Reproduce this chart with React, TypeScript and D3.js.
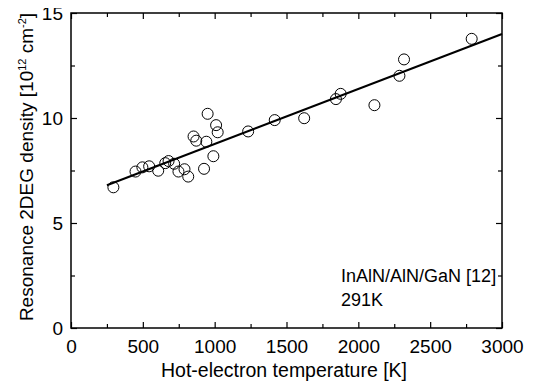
import React, { useEffect, useRef } from 'react';
import * as d3 from 'd3';

// Hot-electron temperature [K]
const temperatures = [
  295, 449, 497, 544, 607, 656, 679, 718, 748, 790, 816, 853, 872, 926, 942,
  951, 991, 1010, 1021, 1233, 1418, 1623, 1844, 1877, 2112, 2286, 2318, 2789,
];
// Resonance 2DEG density [1e12 cm^-2]
const densities = [
  6.7, 7.45, 7.65, 7.7, 7.49, 7.85, 7.95, 7.82, 7.45, 7.56, 7.21, 9.12, 8.92,
  7.58, 8.87, 10.2, 8.18, 9.66, 9.32, 9.36, 9.9, 9.99, 10.9, 11.15, 10.61,
  12.01, 12.79, 13.77,
];
// linear fit endpoints
const fitX = [250, 3000];
const fitY = [6.8, 14.0];

const xTicks = [0, 500, 1000, 1500, 2000, 2500, 3000];
const yTicks = [0, 5, 10, 15];

const W = 541;
const H = 385;
const margin = { top: 13, right: 39, bottom: 57, left: 71 };
const FONT = 'Liberation Sans, Arial, Helvetica, sans-serif';

export default function App() {
  const svgRef = useRef<SVGSVGElement>(null);

  useEffect(() => {
    if (!svgRef.current) return;
    const innerWidth = W - margin.left - margin.right;
    const innerHeight = H - margin.top - margin.bottom;

    d3.select(svgRef.current).selectAll('*').remove();
    const svg = d3.select(svgRef.current).attr('width', W).attr('height', H);
    const g = svg.append('g').attr('transform', `translate(${margin.left},${margin.top})`);

    const x = d3.scaleLinear().domain([0, 3000]).range([0, innerWidth]);
    const y = d3.scaleLinear().domain([0, 15]).range([innerHeight, 0]);

    const minorX = d3.range(0, 3001, 250);
    const minorY = d3.range(0, 15.01, 2.5);

    // Axes with inward ticks on all four sides
    const styleAxis = (sel: d3.Selection<SVGGElement, unknown, null, undefined>) => {
      sel.select('.domain').remove();
      sel.selectAll('line').attr('stroke', '#000').attr('stroke-width', 1.2);
    };

    const bottom = g.append('g').attr('transform', `translate(0,${innerHeight})`);
    bottom.call(
      d3.axisBottom(x).tickValues(minorX).tickSize(-4).tickFormat(() => '')
    );
    styleAxis(bottom);
    bottom.selectAll('.tick line').attr('y2', (d: any) => (d % 500 === 0 ? -6 : -4));
    bottom
      .selectAll('.tick')
      .filter((d: any) => xTicks.includes(d))
      .append('text')
      .attr('y', 25)
      .attr('text-anchor', 'middle')
      .attr('fill', '#000')
      .style('font-family', FONT)
      .style('font-size', '19px')
      .text((d: any) => String(d));

    const top = g.append('g');
    top.call(d3.axisTop(x).tickValues(minorX).tickSize(-4).tickFormat(() => ''));
    styleAxis(top);
    top.selectAll('.tick line').attr('y2', (d: any) => (d % 500 === 0 ? 6 : 4));

    const left = g.append('g');
    left.call(d3.axisLeft(y).tickValues(minorY).tickSize(-4).tickFormat(() => ''));
    styleAxis(left);
    left.selectAll('.tick line').attr('x2', (d: any) => (d % 5 === 0 ? 6 : 4));
    left
      .selectAll('.tick')
      .filter((d: any) => yTicks.includes(d))
      .append('text')
      .attr('x', -8)
      .attr('dy', '0.35em')
      .attr('text-anchor', 'end')
      .attr('fill', '#000')
      .style('font-family', FONT)
      .style('font-size', '19px')
      .text((d: any) => String(d));

    const right = g.append('g').attr('transform', `translate(${innerWidth},0)`);
    right.call(d3.axisRight(y).tickValues(minorY).tickSize(-4).tickFormat(() => ''));
    styleAxis(right);
    right.selectAll('.tick line').attr('x2', (d: any) => (d % 5 === 0 ? -6 : -4));

    // Frame
    g.append('rect')
      .attr('width', innerWidth)
      .attr('height', innerHeight)
      .attr('fill', 'none')
      .attr('stroke', '#000')
      .attr('stroke-width', 1.5);

    // Fit line
    const line = d3
      .line<number>()
      .x((d) => x(d))
      .y((_, i) => y(fitY[i]));
    g.append('path')
      .datum(fitX)
      .attr('d', line)
      .attr('fill', 'none')
      .attr('stroke', '#000')
      .attr('stroke-width', 2);

    // Points
    g.selectAll('.pt')
      .data(temperatures)
      .enter()
      .append('circle')
      .attr('class', 'pt')
      .attr('cx', (d) => x(d))
      .attr('cy', (_, i) => y(densities[i]))
      .attr('r', 5.5)
      .attr('fill', 'none')
      .attr('stroke', '#000')
      .attr('stroke-width', 1);

    // Annotation
    const note = g
      .append('text')
      .attr('fill', '#000')
      .style('font-family', FONT)
      .style('font-size', '18px');
    note.append('tspan').attr('x', x(1880)).attr('y', y(2.2)).text('InAlN/AlN/GaN [12]');
    note.append('tspan').attr('x', x(1880)).attr('y', y(1.05)).text('291K');

    // X title
    svg
      .append('text')
      .attr('x', 284)
      .attr('y', 377)
      .attr('text-anchor', 'middle')
      .attr('fill', '#000')
      .style('font-family', FONT)
      .style('font-size', '19.5px')
      .text('Hot-electron temperature [K]');

    // Y title
    const yt = svg
      .append('text')
      .attr('transform', `translate(33,167) rotate(-90)`)
      .attr('text-anchor', 'middle')
      .attr('fill', '#000')
      .style('font-family', FONT)
      .style('font-size', '19px');
    yt.append('tspan').text('Resonance 2DEG density [10');
    yt.append('tspan').attr('dy', -7).style('font-size', '11px').text('12');
    yt.append('tspan').attr('dy', 7).text(' cm');
    yt.append('tspan').attr('dy', -7).style('font-size', '11px').text('-2');
    yt.append('tspan').attr('dy', 7).text(']');
  }, []);

  return (
    <div style={{ margin: -8 }}>
      <svg ref={svgRef} />
    </div>
  );
}
